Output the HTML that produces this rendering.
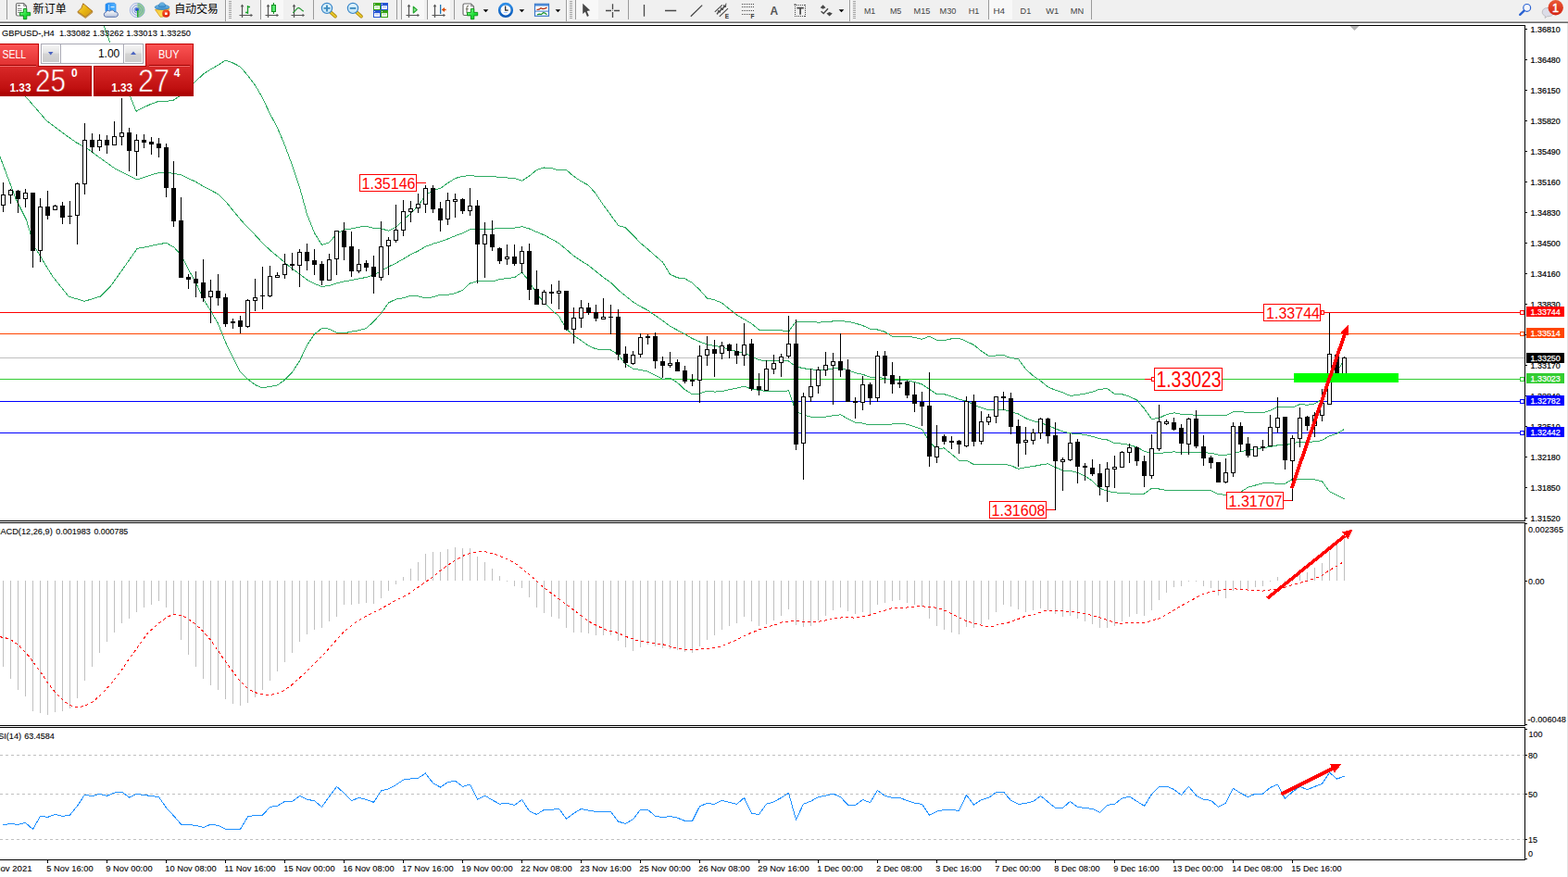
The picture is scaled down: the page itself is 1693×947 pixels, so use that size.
<!DOCTYPE html><html><head><meta charset="utf-8"><title>GBPUSD H4</title><style>html,body{margin:0;padding:0;background:#fff;overflow:hidden}body{width:1693px;height:947px;font-family:"Liberation Sans",sans-serif}svg{display:block}text{white-space:pre}</style></head><body><svg width="1693" height="947" viewBox="0 0 1693 947" font-family="'Liberation Sans', sans-serif">
<rect x="0" y="0" width="1693" height="947" fill="#fff"/>
<g shape-rendering="crispEdges">
<rect x="0" y="0" width="1693" height="22" fill="#f0f0f0"/>
<rect x="0" y="22" width="1693" height="1" fill="#f5f5f5"/>
<rect x="0" y="23" width="1693" height="1" fill="#a6a6a6"/>
<rect x="0" y="24" width="1693" height="1" fill="#696969"/>
<rect x="7" y="0" width="1" height="21" fill="#9a9a9a"/>
<rect x="338" y="0" width="1" height="21" fill="#9a9a9a"/>
<rect x="428" y="0" width="1" height="21" fill="#9a9a9a"/>
<rect x="490" y="0" width="1" height="21" fill="#9a9a9a"/>
<rect x="678" y="0" width="1" height="21" fill="#9a9a9a"/>
<rect x="1178" y="0" width="1" height="21" fill="#9a9a9a"/>
<rect x="243" y="0" width="1" height="23" fill="#9a9a9a"/>
<rect x="244" y="0" width="1" height="23" fill="#fbfbfb"/>
<rect x="611" y="0" width="1" height="23" fill="#9a9a9a"/>
<rect x="612" y="0" width="1" height="23" fill="#fbfbfb"/>
<rect x="917" y="0" width="1" height="23" fill="#9a9a9a"/>
<rect x="918" y="0" width="1" height="23" fill="#fbfbfb"/>
<rect x="282" y="0" width="24" height="21" fill="#f8f8f8"/>
<rect x="281" y="0" width="1" height="21" fill="#9a9a9a"/>
<rect x="434" y="0" width="24" height="21" fill="#f8f8f8"/>
<rect x="433" y="0" width="1" height="21" fill="#9a9a9a"/>
<rect x="462" y="0" width="24" height="21" fill="#f8f8f8"/>
<rect x="461" y="0" width="1" height="21" fill="#9a9a9a"/>
<rect x="622" y="0" width="24" height="21" fill="#f8f8f8"/>
<rect x="621" y="0" width="1" height="21" fill="#9a9a9a"/>
<rect x="1068" y="0" width="25" height="21" fill="#f8f8f8"/>
<rect x="1067" y="0" width="1" height="21" fill="#9a9a9a"/>
<rect x="247" y="1" width="3" height="1" fill="#a4a4a4"/>
<rect x="247" y="3" width="3" height="1" fill="#a4a4a4"/>
<rect x="247" y="5" width="3" height="1" fill="#a4a4a4"/>
<rect x="247" y="7" width="3" height="1" fill="#a4a4a4"/>
<rect x="247" y="9" width="3" height="1" fill="#a4a4a4"/>
<rect x="247" y="11" width="3" height="1" fill="#a4a4a4"/>
<rect x="247" y="13" width="3" height="1" fill="#a4a4a4"/>
<rect x="247" y="15" width="3" height="1" fill="#a4a4a4"/>
<rect x="247" y="17" width="3" height="1" fill="#a4a4a4"/>
<rect x="247" y="19" width="3" height="1" fill="#a4a4a4"/>
<rect x="615" y="1" width="3" height="1" fill="#a4a4a4"/>
<rect x="615" y="3" width="3" height="1" fill="#a4a4a4"/>
<rect x="615" y="5" width="3" height="1" fill="#a4a4a4"/>
<rect x="615" y="7" width="3" height="1" fill="#a4a4a4"/>
<rect x="615" y="9" width="3" height="1" fill="#a4a4a4"/>
<rect x="615" y="11" width="3" height="1" fill="#a4a4a4"/>
<rect x="615" y="13" width="3" height="1" fill="#a4a4a4"/>
<rect x="615" y="15" width="3" height="1" fill="#a4a4a4"/>
<rect x="615" y="17" width="3" height="1" fill="#a4a4a4"/>
<rect x="615" y="19" width="3" height="1" fill="#a4a4a4"/>
<rect x="921" y="1" width="3" height="1" fill="#a4a4a4"/>
<rect x="921" y="3" width="3" height="1" fill="#a4a4a4"/>
<rect x="921" y="5" width="3" height="1" fill="#a4a4a4"/>
<rect x="921" y="7" width="3" height="1" fill="#a4a4a4"/>
<rect x="921" y="9" width="3" height="1" fill="#a4a4a4"/>
<rect x="921" y="11" width="3" height="1" fill="#a4a4a4"/>
<rect x="921" y="13" width="3" height="1" fill="#a4a4a4"/>
<rect x="921" y="15" width="3" height="1" fill="#a4a4a4"/>
<rect x="921" y="17" width="3" height="1" fill="#a4a4a4"/>
<rect x="921" y="19" width="3" height="1" fill="#a4a4a4"/>
</g>
<defs><linearGradient id="gpl" x1="0" y1="0" x2="1" y2="1"><stop offset="0" stop-color="#98ff9c"/><stop offset="0.55" stop-color="#22e03a"/><stop offset="1" stop-color="#0cc020"/></linearGradient><linearGradient id="ggold" x1="0" y1="0" x2="1" y2="1"><stop offset="0" stop-color="#f8d84a"/><stop offset="0.5" stop-color="#e8b410"/><stop offset="1" stop-color="#c8901a"/></linearGradient><linearGradient id="gcloud" x1="0" y1="0" x2="0" y2="1"><stop offset="0" stop-color="#ffffff"/><stop offset="1" stop-color="#b8c4dc"/></linearGradient><linearGradient id="gblue" x1="0" y1="0" x2="1" y2="0"><stop offset="0" stop-color="#1e8cf5"/><stop offset="1" stop-color="#55b4ff"/></linearGradient><radialGradient id="gred" cx="0.4" cy="0.3" r="0.8"><stop offset="0" stop-color="#ff5a30"/><stop offset="1" stop-color="#d01800"/></radialGradient><linearGradient id="gbadge" x1="0" y1="0" x2="0" y2="1"><stop offset="0" stop-color="#ea5a36"/><stop offset="1" stop-color="#d42414"/></linearGradient><linearGradient id="glens" x1="0" y1="0" x2="0" y2="1"><stop offset="0" stop-color="#e4f6fd"/><stop offset="1" stop-color="#bfe3f6"/></linearGradient><linearGradient id="gclock" x1="0" y1="0" x2="0" y2="1"><stop offset="0" stop-color="#2f8fe8"/><stop offset="1" stop-color="#0a58b8"/></linearGradient><linearGradient id="ghat" x1="0" y1="0" x2="0" y2="1"><stop offset="0" stop-color="#7cc4ec"/><stop offset="1" stop-color="#3a8ccc"/></linearGradient><linearGradient id="gface" x1="0" y1="0" x2="1" y2="1"><stop offset="0" stop-color="#f6c830"/><stop offset="1" stop-color="#fbe878"/></linearGradient></defs><path d="M19.5 3.5h6.0l3 3v9q0 1.5 -1.5 1.5h-8.0q-1.5 0 -1.5 -1.5v-10.5q0 -1.5 1.5 -1.5z" fill="#fff" stroke="#6c6c6c" stroke-width="1.15"/><path d="M25.5 3.7v2.8h2.8" fill="none" stroke="#8a8a8a" stroke-width="0.9"/><rect x="19" y="5" width="3" height="1.6" fill="#8c8c8c"/><path d="M19 9.5h4.6M19 11.5h4.6M19 13.5h3" stroke="#8c8c8c" stroke-width="1"/><path d="M25.4 9.5h3.4v3.9h3.9v3.4h-3.9v3.9h-3.4v-3.9h-3.9v-3.4h3.9z" fill="url(#gpl)" stroke="#089414" stroke-width="0.95"/><path d="M89.8 3.8 Q88.8 9.2 84 12.6 L92.1 18.5 L99.8 12.1 Z" fill="url(#ggold)" stroke="#a8701a" stroke-width="1" stroke-linejoin="round"/><path d="M92.1 18.5 L99.8 12.1 L100 13.4 L92.3 19.6 L84 13.8 L84 12.6Z" fill="#d9b469" stroke="#a8701a" stroke-width="0.6"/><path d="M114 4.5l3 -1.3h6.5l1.5 1.5v8h-11z" fill="url(#gblue)" stroke="#1878e0" stroke-width="0.6"/><path d="M117.5 5v7" stroke="#bfe2ff" stroke-width="0.8"/><path d="M119.5 7.5h4" stroke="#d8eeff" stroke-width="1.2"/><path d="M114.5 18.3a2.6 2.6 0 0 1 -.3 -5.1a3 3 0 0 1 4.3 -1.2a3.2 3.2 0 0 1 5.3 .9a2.7 2.7 0 0 1 1.6 5.3q-.4 .1 -1 .1z" fill="url(#gcloud)" stroke="#4a66a6" stroke-width="0.9"/><g fill="none" stroke="#3a66d8"><path d="M148 3.3a7.7 7.7 0 1 0 0.1 15.4" stroke-width="1" opacity="0.45"/><path d="M148 5.6a5.4 5.4 0 1 0 0.1 10.8" stroke-width="1" opacity="0.6"/><path d="M148 7.9a3.1 3.1 0 1 0 0.1 6.2" stroke-width="1" opacity="0.75"/></g><path d="M148.3 3.3a7.7 7.7 0 0 1 0.2 15.4l0 -7.7z" fill="#7cc47a" opacity="0.75"/><path d="M148.3 3.3a7.7 7.7 0 0 1 0.2 15.4M148.3 5.6a5.4 5.4 0 0 1 0.1 10.8M148.3 7.9a3.1 3.1 0 0 1 .1 6.2" fill="none" stroke="#4a8ac0" stroke-width="0.9" opacity="0.6"/><circle cx="148" cy="10.6" r="2" fill="#2a58d0"/><rect x="148" y="11" width="1.4" height="7.6" fill="#22a82a"/><path d="M167.5 10.4 L182.8 9.6 L176.5 18 L173 18.3 Z" fill="url(#gface)" stroke="#d89a18" stroke-width="0.8" stroke-linejoin="round"/><ellipse cx="175" cy="7.8" rx="7.8" ry="2.6" fill="url(#ghat)" stroke="#2c7cbc" stroke-width="0.7"/><path d="M171.2 7.2q.3 -4.3 3.8 -4.3t3.8 4.3q-3.8 1.4 -7.6 0z" fill="url(#ghat)" stroke="#2c7cbc" stroke-width="0.7"/><circle cx="179.3" cy="14.7" r="4.1" fill="url(#gred)"/><rect x="178.1" y="13.5" width="2.5" height="2.5" fill="#fff"/><path d="M261.5 5.5V19M258.5 16.5H272" stroke="#555" stroke-width="1.2" fill="none"/><path d="M259.7 7.2L261.5 4.6L263.3 7.2zM270.6 14.7L273 16.5L270.6 18.3z" fill="#555"/><path d="M267.5 6v9M267.5 7.5h2.5M265 13.5h2.5" stroke="#18a028" stroke-width="1.3" fill="none"/><path d="M289.5 5.5V19M286.5 16.5H300" stroke="#555" stroke-width="1.2" fill="none"/><path d="M287.7 7.2L289.5 4.6L291.3 7.2zM298.6 14.7L301 16.5L298.6 18.3z" fill="#555"/><rect x="295" y="3" width="1" height="12" fill="#109020"/><rect x="293.5" y="5.5" width="4" height="7" fill="#58e870" stroke="#109020" stroke-width="1"/><path d="M317.5 5.5V19M314.5 16.5H328" stroke="#555" stroke-width="1.2" fill="none"/><path d="M315.7 7.2L317.5 4.6L319.3 7.2zM326.6 14.7L329 16.5L326.6 18.3z" fill="#555"/><path d="M316.2 13.8C319 12 320.5 8.4 322.2 8.3C324 8.3 325.5 11.2 327.8 12.2" stroke="#2a9a38" stroke-width="1.3" fill="none"/><path d="M357.2 13.4l4.8 4.3" stroke="#a88008" stroke-width="3.6" stroke-linecap="round"/><path d="M357.2 13.4l4.8 4.3" stroke="#e6c62a" stroke-width="2.2" stroke-linecap="round"/><circle cx="353" cy="8.9" r="5.6" fill="url(#glens)" stroke="#3a86c8" stroke-width="1.2"/><path d="M349.5 8.9h7M353 5.4v7" stroke="#3f8cc0" stroke-width="1.9"/><path d="M385.2 13.4l4.8 4.3" stroke="#a88008" stroke-width="3.6" stroke-linecap="round"/><path d="M385.2 13.4l4.8 4.3" stroke="#e6c62a" stroke-width="2.2" stroke-linecap="round"/><circle cx="381" cy="8.9" r="5.6" fill="url(#glens)" stroke="#3a86c8" stroke-width="1.2"/><path d="M377.7 8.9h6.6" stroke="#3f8cc0" stroke-width="1.9"/><rect x="403" y="3" width="8" height="8" fill="#34a212"/><rect x="404" y="6.2" width="6" height="3.8" fill="#fff"/><rect x="405" y="7.4" width="4" height="1" fill="#a8dc98"/><rect x="404" y="4" width="1" height="1" fill="#dde"/><rect x="411" y="3" width="8" height="8" fill="#2454d4"/><rect x="412" y="6.2" width="6" height="3.8" fill="#fff"/><rect x="413" y="7.4" width="4" height="1" fill="#a8bcf0"/><rect x="412" y="4" width="1" height="1" fill="#dde"/><rect x="403" y="11" width="8" height="8" fill="#2454d4"/><rect x="404" y="14.2" width="6" height="3.8" fill="#fff"/><rect x="405" y="15.4" width="4" height="1" fill="#a8bcf0"/><rect x="404" y="12" width="1" height="1" fill="#dde"/><rect x="411" y="11" width="8" height="8" fill="#34a212"/><rect x="412" y="14.2" width="6" height="3.8" fill="#fff"/><rect x="413" y="15.4" width="4" height="1" fill="#a8dc98"/><rect x="412" y="12" width="1" height="1" fill="#dde"/><path d="M441.5 5.5V19M438.5 16.5H452" stroke="#555" stroke-width="1.2" fill="none"/><path d="M439.7 7.2L441.5 4.6L443.3 7.2zM450.6 14.7L453 16.5L450.6 18.3z" fill="#555"/><path d="M446.3 7.2v6.8l4 -3.4z" fill="#8be08e" stroke="#1ea428" stroke-width="1.1" stroke-linejoin="round"/><path d="M469.5 5.5V19M466.5 16.5H480" stroke="#555" stroke-width="1.2" fill="none"/><path d="M467.7 7.2L469.5 4.6L471.3 7.2zM478.6 14.7L481 16.5L478.6 18.3z" fill="#555"/><rect x="475" y="5" width="1.3" height="10" fill="#1f74b4"/><path d="M476.8 10.5l3.2 -2.6v1.9h1.6v1.4h-1.6v1.9z" fill="#d84a08"/><path d="M502 4.0h6.5l3 3v8q0 1.5 -1.5 1.5h-8.5q-1.5 0 -1.5 -1.5v-9.5q0 -1.5 1.5 -1.5z" fill="#fff" stroke="#6c6c6c" stroke-width="1.15"/><path d="M508.5 4.2v2.8h2.8" fill="none" stroke="#8a8a8a" stroke-width="0.9"/><path d="M506 6.2q-2 -.3 -2 2v6M502.8 9.8h3" stroke="#665" stroke-width="1" fill="none"/><path d="M508.4 9.5h3.4v3.9h3.9v3.4h-3.9v3.9h-3.4v-3.9h-3.9v-3.4h3.9z" fill="url(#gpl)" stroke="#089414" stroke-width="0.95"/><path d="M521.7 10.3h5.6l-2.8 3z" fill="#000"/><circle cx="546" cy="10.9" r="6.8" fill="#fdfdfd" stroke="url(#gclock)" stroke-width="2.6"/><path d="M545.7 6.5v4.6h3" stroke="#222" stroke-width="1.2" fill="none"/><g fill="#9ab"><rect x="545.5" y="5" width="1" height="1"/><rect x="551" y="10.5" width="1" height="1"/><rect x="540.4" y="10.5" width="1" height="1"/><rect x="545.5" y="15.8" width="1" height="1"/><rect x="543.8" y="13.3" width="4" height=".8" fill="#7af"/></g><path d="M560.6 10.3h5.6l-2.8 3z" fill="#000"/><rect x="577.5" y="4.3" width="15" height="13" fill="#fff" stroke="#3a78c8" stroke-width="1.2"/><rect x="578" y="4.5" width="14" height="2" fill="#4a8ad8"/><rect x="578" y="11.6" width="14" height="1" fill="#3a78c8"/><path d="M579.5 10.5l2.5 -.3l2 -1.4l2 .8l2.5 -.5l2 -1" stroke="#b02808" stroke-width="1.2" fill="none"/><path d="M580 15.8l2.3 -.6l2 .5l2.3 -2l1.8 .4l2 1.6" stroke="#18902a" stroke-width="1.2" fill="none"/><path d="M599.6 10.3h5.6l-2.8 3z" fill="#000"/><path d="M629.2 3.8V15L631.9 12.8L634 17.9L635.8 17.1L633.7 12.1L637.2 11.3Z" fill="#484848"/><path d="M654 11.5h6M663 11.5h6M661.5 4.2v6M661.5 13v6" stroke="#484848" stroke-width="1.3"/><rect x="661" y="11" width="1" height="1" fill="#888"/><path d="M695.5 5v12.8M718 11.5h12.2M745.8 17.8L758.2 5.6" stroke="#484848" stroke-width="1.3" fill="none"/><path d="M771.8 12.8L779.8 5.3M776.8 17.8L786 9.2M773.8 15.2L784 5.8" stroke="#484848" stroke-width="1.1" fill="none"/><path d="M774.6 15.6l1.2 -4.6l1.4 2.6l1.6 -5.4l1.4 2.8l1.6 -5.6l1.3 2.6l.9 -4.4" stroke="#484848" stroke-width="1" fill="none"/><text x="782.8" y="19.8" font-size="6.5" font-weight="bold" fill="#333">E</text><path d="M801 4.5h13" stroke="#484848" stroke-width="1" stroke-dasharray="1 1" shape-rendering="crispEdges"/><path d="M801 7.5h13" stroke="#484848" stroke-width="1" stroke-dasharray="1 1" shape-rendering="crispEdges"/><path d="M801 11.5h13" stroke="#484848" stroke-width="1" stroke-dasharray="1 1" shape-rendering="crispEdges"/><path d="M801 15.5h13" stroke="#484848" stroke-width="1" stroke-dasharray="1 1" shape-rendering="crispEdges"/><text x="810.6" y="19.9" font-size="6.5" font-weight="bold" fill="#333">F</text><text x="831.4" y="15.7" font-size="12" font-weight="bold" fill="#555" textLength="8.6" lengthAdjust="spacingAndGlyphs">A</text><path d="M858 5.5h12M858 17.5h12M858.5 5v13M869.5 5v13" fill="none" stroke="#484848" stroke-width="1" stroke-dasharray="1 1" shape-rendering="crispEdges"/><rect x="857.5" y="4.3" width="2" height="1.4" fill="#484848"/><path d="M860.4 8.7h7.4M864.1 8.7v7" stroke="#484848" stroke-width="1.7" fill="none"/><path d="M888.6 5.3l2.9 2.9l-2.9 1.6l-2.9 -1.6zM895.6 17.6l-3.2 -3l3.2 -1.5l3.2 1.5z" fill="#484848"/><path d="M886.6 12.2l2.6 2.3l4.8 -5.2" stroke="#484848" stroke-width="1.4" fill="none"/><path d="M905.7 10.3h5.6l-2.8 3z" fill="#000"/><circle cx="1648.7" cy="8.4" r="3.9" fill="#f4f6fc" stroke="#2a62d2" stroke-width="1.2"/><path d="M1645.6 11.6L1641.2 15.8" stroke="#2a62d2" stroke-width="2.4" stroke-linecap="round"/><path d="M1670.8 8.5c-3.3 0 -5.6 1.9 -5.6 4.6c0 2 1.4 3.5 3.3 4.2l-.4 2.2l2.4 -1.8c4 .2 7.2 -1.4 7.2 -4.6c0 -2.7 -3 -4.6 -6.9 -4.6z" fill="#dcdde8" stroke="#b4b4b8" stroke-width="0.8"/><circle cx="1679.7" cy="8.2" r="8.2" fill="url(#gbadge)"/><text x="1679.6" y="12.8" font-size="12.5" fill="#fff" text-anchor="middle" stroke="#fff" stroke-width="0.5">1</text>
<text x="932.9" y="14.9" font-size="9.7" fill="#444" textLength="12.2" lengthAdjust="spacingAndGlyphs">M1</text>
<text x="960.9" y="14.9" font-size="9.7" fill="#444" textLength="12.4" lengthAdjust="spacingAndGlyphs">M5</text>
<text x="986.5" y="14.9" font-size="9.7" fill="#444" textLength="17.9" lengthAdjust="spacingAndGlyphs">M15</text>
<text x="1014.6" y="14.9" font-size="9.7" fill="#444" textLength="17.9" lengthAdjust="spacingAndGlyphs">M30</text>
<text x="1045.7" y="14.9" font-size="9.7" fill="#444" textLength="11.6" lengthAdjust="spacingAndGlyphs">H1</text>
<text x="1072.5" y="14.9" font-size="9.7" fill="#444" textLength="12.6" lengthAdjust="spacingAndGlyphs">H4</text>
<text x="1101.6" y="14.9" font-size="9.7" fill="#444" textLength="11.6" lengthAdjust="spacingAndGlyphs">D1</text>
<text x="1129.2" y="14.9" font-size="9.7" fill="#444" textLength="14.1" lengthAdjust="spacingAndGlyphs">W1</text>
<text x="1155.7" y="14.9" font-size="9.7" fill="#444" textLength="14.4" lengthAdjust="spacingAndGlyphs">MN</text>
<text x="35.6" y="14" font-size="12" fill="#000" textLength="36.2" lengthAdjust="spacing" style="font-family:'Liberation Sans','Noto Sans CJK SC',sans-serif">新订单</text>
<text x="188.2" y="14" font-size="12" fill="#000" textLength="47.6" lengthAdjust="spacing" style="font-family:'Liberation Sans','Noto Sans CJK SC',sans-serif">自动交易</text>
<g shape-rendering="crispEdges">
<rect x="0" y="27" width="1647" height="1" fill="#000"/>
<rect x="1646" y="27" width="1" height="536" fill="#000"/>
<rect x="0" y="562" width="1647" height="1" fill="#000"/>
<rect x="0" y="564" width="1647" height="1" fill="#000"/>
<rect x="1646" y="564" width="1" height="220" fill="#000"/>
<rect x="0" y="783" width="1647" height="1" fill="#000"/>
<rect x="0" y="785" width="1647" height="1" fill="#000"/>
<rect x="1646" y="785" width="1" height="144" fill="#000"/>
<rect x="0" y="928" width="1647" height="1" fill="#000"/>
<rect x="1692" y="25" width="1" height="922" fill="#e3e3e3"/>
<rect x="0" y="337" width="1646" height="1" fill="#ff0000"/>
<rect x="0" y="360" width="1646" height="1" fill="#ff4500"/>
<rect x="0" y="386" width="1646" height="1" fill="#c0c0c0"/>
<rect x="0" y="409" width="1646" height="1" fill="#32cd32"/>
<rect x="0" y="433" width="1646" height="1" fill="#0000ff"/>
<rect x="0" y="467" width="1646" height="1" fill="#0000ff"/>
</g>
<clipPath id="cpm"><rect x="0" y="28" width="1646" height="534"/></clipPath>
<g clip-path="url(#cpm)" fill="none" stroke="#2fab63" stroke-width="1" shape-rendering="crispEdges">
<polyline points="112.2,27.5 118.2,44.5 122,52 128,72 135,90 141.5,106.4 147,120.2 155.5,115.9 163.5,112.1 171.5,109.3 179.5,109.4 187.5,108 195.5,102.7 203.5,94.5 211.5,87.6 219.5,80 227.5,74.9 235.5,70.2 243.5,65.2 251.5,68 259.5,72.1 267.5,81.6 275.5,92 283.5,105.9 291.5,122.8 299.5,137.8 307.5,156.9 315.5,178.4 323.5,202.2 331.5,231.5 339.5,251.6 347.5,264.4 355.5,261.9 363.5,252.6 371.5,248 379.5,246.9 387.5,245.2 395.5,244.1 403.5,246.6 411.5,246.9 419.5,249.1 427.5,245.4 435.5,237.4 443.5,230.5 451.5,222.1 459.5,210.8 467.5,205.8 475.5,203.3 483.5,197.7 491.5,192.6 499.5,190.3 507.5,189.7 515.5,190.3 523.5,190.4 531.5,190.4 539.5,191.5 547.5,192 555.5,192.4 563.5,195.3 571.5,190 579.5,183.4 587.5,181 595.5,181.6 603.5,184 611.5,183.6 619.5,190.4 627.5,195.8 635.5,200.1 643.5,209.4 651.5,221.4 659.5,232.3 667.5,243.4 675.5,245.9 683.5,254 691.5,262.4 699.5,269.1 707.5,276.3 715.5,283 723.5,296.2 731.5,299.9 739.5,300.8 747.5,305.5 755.5,313 763.5,322 771.5,323.8 779.5,327.2 787.5,333.7 795.5,340 803.5,344.7 811.5,349.5 819.5,356 827.5,356.7 835.5,356.7 843.5,356.8 851.5,358.1 859.5,347.2 867.5,347.2 875.5,347.6 883.5,348.1 891.5,347.8 899.5,346.9 907.5,346.7 915.5,347.3 923.5,349.1 931.5,351.5 939.5,355.3 947.5,356 955.5,358.3 963.5,363.4 971.5,363.3 979.5,363.2 987.5,364.3 995.5,366.3 1003.5,363.1 1011.5,367.1 1019.5,367.5 1027.5,365.8 1035.5,365.2 1043.5,368.6 1051.5,372.5 1059.5,379 1067.5,384.4 1075.5,384 1083.5,383.5 1091.5,386.6 1099.5,387.6 1107.5,398.7 1115.5,405.8 1123.5,411.2 1131.5,417.9 1139.5,421.2 1147.5,423.8 1155.5,427.4 1163.5,426.4 1171.5,425.1 1179.5,423.3 1187.5,420.2 1195.5,419.7 1203.5,425.3 1211.5,425.7 1219.5,428.2 1227.5,432 1235.5,441.2 1243.5,452.5 1251.5,451.4 1259.5,447.6 1267.5,445.8 1275.5,447.2 1283.5,447.3 1291.5,448.5 1299.5,448.5 1307.5,448.5 1315.5,448.8 1323.5,448.6 1331.5,444.8 1339.5,444.2 1347.5,446 1355.5,445.9 1363.5,445.8 1371.5,443.3 1379.5,439.2 1387.5,439.3 1395.5,440 1403.5,436.6 1411.5,437.2 1419.5,436 1427.5,431.1 1435.5,410.6 1443.5,401.5 1451.5,388.2"/>
<polyline points="0,78 15,92 29.6,106.4 50.1,130.2 70.1,145.2 82.6,154 93.9,160.2 107.7,170.3 125.2,182.8 147.8,194 155.5,191.5 163.5,188.8 171.5,186.5 179.5,185.9 187.5,187.4 195.5,188.8 203.5,192.7 211.5,196.4 219.5,201.3 227.5,205.3 235.5,209.7 243.5,217.3 251.5,227.2 259.5,236.9 267.5,245.6 275.5,253.8 283.5,262.4 291.5,270.1 299.5,276.8 307.5,283.5 315.5,290.2 323.5,296 331.5,302.1 339.5,306.3 347.5,309.5 355.5,308.5 363.5,305.9 371.5,303.9 379.5,302.5 387.5,301 395.5,299.4 403.5,296.8 411.5,292.7 419.5,288 427.5,284.2 435.5,279.6 443.5,274.9 451.5,271 459.5,266.3 467.5,263.3 475.5,260.8 483.5,258 491.5,254.7 499.5,251.8 507.5,247.8 515.5,247 523.5,247.2 531.5,247.2 539.5,246.6 547.5,246.3 555.5,246.1 563.5,244.7 571.5,247 579.5,250.5 587.5,253.8 595.5,258.2 603.5,262.7 611.5,269.4 619.5,276.4 627.5,281.7 635.5,286.7 643.5,293.1 651.5,299.5 659.5,305.2 667.5,313.2 675.5,319.6 683.5,326.1 691.5,330.9 699.5,335.1 707.5,340.7 715.5,346.2 723.5,352.2 731.5,356.6 739.5,360.8 747.5,365.6 755.5,369 763.5,372.1 771.5,373.4 779.5,374.9 787.5,377.2 795.5,379.5 803.5,380.9 811.5,384.8 819.5,388.8 827.5,389.6 835.5,389.6 843.5,389.7 851.5,390 859.5,395.8 867.5,397.7 875.5,398.9 883.5,399.2 891.5,398.9 899.5,397.9 907.5,397.3 915.5,399.8 923.5,402.6 931.5,404.3 939.5,407.1 947.5,407.4 955.5,408.5 963.5,410.7 971.5,410.4 979.5,410.7 987.5,412.5 995.5,414.9 1003.5,420.3 1011.5,425.8 1019.5,425.7 1027.5,428.1 1035.5,431.2 1043.5,432.9 1051.5,437 1059.5,440.3 1067.5,442.8 1075.5,442.6 1083.5,442.3 1091.5,444.6 1099.5,447 1107.5,451.6 1115.5,454.7 1123.5,456.6 1131.5,459.4 1139.5,462.9 1147.5,465.9 1155.5,467.9 1163.5,468.5 1171.5,469.5 1179.5,471.3 1187.5,473.7 1195.5,475 1203.5,478.6 1211.5,479.1 1219.5,480.5 1227.5,482.9 1235.5,487.2 1243.5,490 1251.5,489.7 1259.5,488.5 1267.5,487.9 1275.5,488.5 1283.5,488.5 1291.5,489 1299.5,488.9 1307.5,489.1 1315.5,491.2 1323.5,491.5 1331.5,489.4 1339.5,487.8 1347.5,486.1 1355.5,484.9 1363.5,483.8 1371.5,482.4 1379.5,480.8 1387.5,480.8 1395.5,478.7 1403.5,477 1411.5,477.3 1419.5,476.9 1427.5,475.5 1435.5,470.7 1443.5,468.2 1451.5,463.5"/>
<polyline points="0,169.1 8.5,191.9 17.1,214.7 28.5,237.5 37,266 45.6,280.2 57,298.8 74.1,320.1 91.2,325.3 108.3,320.1 119.7,308.7 133.9,288.8 148.2,268.3 155.5,267.1 163.5,265.4 171.5,263.6 179.5,262.4 187.5,266.7 195.5,275 203.5,291 211.5,305.1 219.5,322.7 227.5,335.7 235.5,349.3 243.5,369.4 251.5,386.3 259.5,401.7 267.5,409.6 275.5,415.6 283.5,418.9 291.5,417.4 299.5,415.9 307.5,410.2 315.5,402 323.5,389.8 331.5,372.7 339.5,360.9 347.5,354.5 355.5,355.1 363.5,359.2 371.5,359.9 379.5,358.1 387.5,356.8 395.5,354.6 403.5,347 411.5,338.5 419.5,327 427.5,323.1 435.5,321.8 443.5,319.2 451.5,319.9 459.5,321.8 467.5,320.8 475.5,318.3 483.5,318.4 491.5,316.8 499.5,313.3 507.5,305.9 515.5,303.6 523.5,303.9 531.5,303.9 539.5,301.7 547.5,300.5 555.5,299.7 563.5,294 571.5,303.9 579.5,317.6 587.5,326.6 595.5,334.7 603.5,341.3 611.5,355.2 619.5,362.4 627.5,367.7 635.5,373.4 643.5,376.9 651.5,377.5 659.5,378 667.5,382.9 675.5,393.2 683.5,398.1 691.5,399.4 699.5,401.1 707.5,405.1 715.5,409.4 723.5,408.3 731.5,413.3 739.5,420.8 747.5,425.7 755.5,425 763.5,422.2 771.5,423.1 779.5,422.6 787.5,420.7 795.5,419.1 803.5,417.1 811.5,420.1 819.5,421.5 827.5,422.5 835.5,422.5 843.5,422.5 851.5,421.9 859.5,444.4 867.5,448.2 875.5,450.1 883.5,450.4 891.5,450.1 899.5,448.8 907.5,447.8 915.5,452.3 923.5,456.1 931.5,457.1 939.5,459 947.5,458.8 955.5,458.7 963.5,458 971.5,457.5 979.5,458.1 987.5,460.8 995.5,463.5 1003.5,477.4 1011.5,484.5 1019.5,483.9 1027.5,490.4 1035.5,497.2 1043.5,497.3 1051.5,501.6 1059.5,501.6 1067.5,501.3 1075.5,501.2 1083.5,501.1 1091.5,502.6 1099.5,506.4 1107.5,504.6 1115.5,503.6 1123.5,502 1131.5,500.8 1139.5,504.6 1147.5,508.1 1155.5,508.4 1163.5,510.5 1171.5,514 1179.5,519.3 1187.5,527.2 1195.5,530.3 1203.5,531.8 1211.5,532.6 1219.5,532.9 1227.5,533.8 1235.5,533.1 1243.5,527.4 1251.5,528 1259.5,529.5 1267.5,530 1275.5,529.7 1283.5,529.7 1291.5,529.5 1299.5,529.3 1307.5,529.6 1315.5,533.6 1323.5,534.4 1331.5,533.9 1339.5,531.3 1347.5,526.2 1355.5,524 1363.5,521.8 1371.5,521.6 1379.5,522.3 1387.5,522.3 1395.5,517.4 1403.5,517.5 1411.5,517.3 1419.5,517.8 1427.5,519.9 1435.5,530.8 1443.5,534.9 1451.5,538.7"/>
</g>
<g shape-rendering="crispEdges">
<path fill="#000" d="M3 197h1v32h-1zM11 204h1v16h-1zM19 205h1v25h-1zM27 204h1v20h-1zM35 208h1v81h-1zM43 214h1v69h-1zM51 206h1v31h-1zM59 221h1v6h-1zM67 218h1v24h-1zM75 217h1v25h-1zM83 197h1v67h-1zM91 133h1v77h-1zM99 144h1v21h-1zM107 145h1v18h-1zM115 146h1v20h-1zM123 131h1v26h-1zM131 106h1v51h-1zM139 138h1v47h-1zM147 145h1v45h-1zM155 145h1v15h-1zM163 148h1v19h-1zM171 149h1v21h-1zM179 155h1v58h-1zM187 174h1v71h-1zM195 213h1v87h-1zM203 296h1v16h-1zM211 293h1v28h-1zM219 280h1v46h-1zM227 302h1v47h-1zM235 296h1v34h-1zM243 317h1v36h-1zM251 344h1v11h-1zM259 341h1v19h-1zM267 323h1v31h-1zM275 301h1v35h-1zM283 288h1v46h-1zM291 287h1v34h-1zM299 294h1v6h-1zM307 274h1v27h-1zM315 273h1v19h-1zM323 269h1v41h-1zM331 263h1v29h-1zM339 269h1v28h-1zM347 282h1v26h-1zM355 274h1v29h-1zM363 249h1v48h-1zM371 240h1v41h-1zM379 250h1v49h-1zM387 269h1v26h-1zM395 281h1v12h-1zM403 276h1v41h-1zM411 239h1v64h-1zM419 256h1v41h-1zM427 221h1v41h-1zM435 216h1v39h-1zM443 217h1v23h-1zM451 209h1v21h-1zM459 200h1v30h-1zM467 200h1v30h-1zM475 218h1v32h-1zM483 208h1v35h-1zM491 209h1v26h-1zM499 214h1v17h-1zM507 203h1v30h-1zM515 216h1v90h-1zM523 240h1v60h-1zM531 238h1v33h-1zM539 267h1v18h-1zM547 264h1v22h-1zM555 264h1v23h-1zM563 266h1v29h-1zM571 263h1v61h-1zM579 292h1v37h-1zM587 313h1v16h-1zM595 307h1v21h-1zM603 303h1v31h-1zM611 314h1v43h-1zM619 332h1v39h-1zM627 324h1v30h-1zM635 327h1v13h-1zM643 329h1v18h-1zM651 322h1v22h-1zM659 329h1v32h-1zM667 334h1v55h-1zM675 374h1v23h-1zM683 379h1v15h-1zM691 360h1v26h-1zM699 361h1v11h-1zM707 359h1v39h-1zM715 385h1v23h-1zM723 380h1v17h-1zM731 388h1v13h-1zM739 395h1v19h-1zM747 404h1v13h-1zM755 373h1v62h-1zM763 363h1v32h-1zM771 367h1v40h-1zM779 369h1v19h-1zM787 371h1v16h-1zM795 371h1v22h-1zM803 349h1v46h-1zM811 366h1v56h-1zM819 403h1v24h-1zM827 389h1v33h-1zM835 383h1v21h-1zM843 382h1v25h-1zM851 341h1v46h-1zM859 345h1v141h-1zM867 424h1v94h-1zM875 398h1v36h-1zM883 396h1v29h-1zM891 380h1v26h-1zM899 381h1v56h-1zM907 360h1v47h-1zM915 388h1v46h-1zM923 429h1v23h-1zM931 406h1v37h-1zM939 413h1v24h-1zM947 379h1v55h-1zM955 379h1v35h-1zM963 391h1v34h-1zM971 406h1v13h-1zM979 411h1v19h-1zM987 413h1v32h-1zM995 423h1v37h-1zM1003 402h1v102h-1zM1011 459h1v41h-1zM1019 469h1v11h-1zM1027 471h1v14h-1zM1035 475h1v15h-1zM1043 428h1v55h-1zM1051 426h1v56h-1zM1059 444h1v36h-1zM1067 447h1v12h-1zM1075 428h1v29h-1zM1083 423h1v20h-1zM1091 424h1v45h-1zM1099 453h1v51h-1zM1107 461h1v30h-1zM1115 463h1v17h-1zM1123 451h1v23h-1zM1131 451h1v28h-1zM1139 456h1v95h-1zM1147 494h1v36h-1zM1155 468h1v30h-1zM1163 474h1v48h-1zM1171 500h1v19h-1zM1179 496h1v18h-1zM1187 501h1v34h-1zM1195 499h1v43h-1zM1203 492h1v35h-1zM1211 487h1v18h-1zM1219 479h1v21h-1zM1227 482h1v21h-1zM1235 492h1v34h-1zM1243 469h1v48h-1zM1251 437h1v50h-1zM1259 453h1v6h-1zM1267 451h1v14h-1zM1275 458h1v33h-1zM1283 451h1v40h-1zM1291 443h1v41h-1zM1299 470h1v33h-1zM1307 492h1v14h-1zM1315 499h1v22h-1zM1323 495h1v27h-1zM1331 456h1v59h-1zM1339 456h1v32h-1zM1347 472h1v22h-1zM1355 482h1v11h-1zM1363 475h1v12h-1zM1371 448h1v34h-1zM1379 429h1v38h-1zM1387 450h1v57h-1zM1395 470h1v71h-1zM1403 440h1v43h-1zM1411 449h1v16h-1zM1419 445h1v27h-1zM1427 420h1v35h-1zM1435 338h1v99h-1zM1443 379h1v25h-1zM1451 385h1v20h-1zM17 206h5v9h-5zM33 208h5v63h-5zM49 223h5v10h-5zM65 222h5v13h-5zM73 233h5v1h-5zM97 151h5v8h-5zM113 151h5v6h-5zM137 143h5v20h-5zM153 151h5v3h-5zM161 153h5v3h-5zM169 155h5v5h-5zM177 159h5v44h-5zM185 203h5v36h-5zM193 238h5v62h-5zM201 299h5v3h-5zM209 301h5v5h-5zM217 305h5v17h-5zM233 314h5v8h-5zM241 321h5v29h-5zM249 347h5v2h-5zM257 346h5v7h-5zM281 319h5v1h-5zM313 285h5v2h-5zM329 272h5v10h-5zM337 281h5v5h-5zM345 285h5v18h-5zM369 249h5v18h-5zM377 266h5v27h-5zM393 284h5v5h-5zM401 288h5v11h-5zM465 203h5v23h-5zM473 225h5v13h-5zM497 215h5v13h-5zM513 222h5v42h-5zM529 253h5v14h-5zM537 268h5v14h-5zM553 277h5v8h-5zM569 271h5v42h-5zM577 312h5v17h-5zM593 315h5v2h-5zM609 314h5v42h-5zM633 332h5v6h-5zM641 337h5v7h-5zM657 342h5v1h-5zM665 342h5v41h-5zM673 382h5v10h-5zM697 363h5v2h-5zM705 363h5v27h-5zM713 390h5v5h-5zM729 391h5v10h-5zM737 400h5v12h-5zM745 410h5v2h-5zM769 377h5v5h-5zM785 372h5v7h-5zM793 379h5v5h-5zM809 371h5v49h-5zM817 417h5v4h-5zM857 371h5v109h-5zM905 390h5v10h-5zM913 399h5v35h-5zM921 433h5v2h-5zM937 415h5v15h-5zM953 384h5v22h-5zM961 405h5v10h-5zM969 413h5v2h-5zM977 412h5v15h-5zM985 426h5v10h-5zM993 434h5v5h-5zM1001 438h5v55h-5zM1017 471h5v6h-5zM1025 476h5v2h-5zM1033 476h5v4h-5zM1049 433h5v44h-5zM1081 428h5v2h-5zM1089 430h5v31h-5zM1097 460h5v19h-5zM1129 452h5v19h-5zM1137 470h5v28h-5zM1161 477h5v27h-5zM1169 503h5v2h-5zM1177 505h5v7h-5zM1185 511h5v15h-5zM1225 483h5v15h-5zM1233 498h5v16h-5zM1265 456h5v8h-5zM1273 462h5v17h-5zM1289 452h5v30h-5zM1297 482h5v13h-5zM1305 494h5v6h-5zM1313 499h5v22h-5zM1337 460h5v20h-5zM1345 479h5v13h-5zM1361 482h5v2h-5zM1385 450h5v47h-5zM1409 450h5v10h-5zM1441 383h5v20h-5z"/>
<path fill="#000" d="M1 210h5v12h-5zM9 205h5v6h-5zM25 208h5v7h-5zM41 223h5v48h-5zM57 222h5v5h-5zM81 198h5v35h-5zM89 151h5v48h-5zM105 151h5v8h-5zM121 147h5v10h-5zM129 143h5v5h-5zM145 151h5v13h-5zM225 314h5v7h-5zM265 324h5v29h-5zM273 321h5v4h-5zM289 298h5v22h-5zM297 297h5v3h-5zM305 285h5v12h-5zM321 272h5v15h-5zM353 280h5v23h-5zM361 249h5v31h-5zM385 285h5v8h-5zM409 266h5v34h-5zM417 259h5v7h-5zM425 248h5v12h-5zM433 228h5v21h-5zM441 225h5v4h-5zM449 220h5v5h-5zM457 203h5v18h-5zM481 216h5v21h-5zM489 215h5v3h-5zM505 222h5v6h-5zM521 253h5v11h-5zM545 277h5v3h-5zM561 271h5v14h-5zM585 315h5v14h-5zM601 314h5v3h-5zM617 343h5v13h-5zM625 332h5v12h-5zM649 342h5v3h-5zM681 383h5v10h-5zM689 364h5v19h-5zM721 392h5v3h-5zM753 384h5v27h-5zM761 377h5v7h-5zM777 373h5v9h-5zM801 372h5v12h-5zM825 398h5v24h-5zM833 392h5v7h-5zM841 385h5v7h-5zM849 371h5v14h-5zM865 428h5v51h-5zM873 417h5v12h-5zM881 399h5v18h-5zM889 394h5v6h-5zM897 390h5v5h-5zM929 415h5v20h-5zM945 384h5v46h-5zM1009 482h5v12h-5zM1041 433h5v49h-5zM1057 455h5v22h-5zM1065 450h5v6h-5zM1073 428h5v22h-5zM1105 475h5v3h-5zM1113 467h5v9h-5zM1121 452h5v16h-5zM1145 496h5v3h-5zM1153 478h5v19h-5zM1193 506h5v20h-5zM1201 504h5v3h-5zM1209 488h5v17h-5zM1217 483h5v6h-5zM1241 484h5v30h-5zM1249 455h5v30h-5zM1257 455h5v3h-5zM1281 452h5v28h-5zM1321 510h5v11h-5zM1329 460h5v51h-5zM1353 482h5v11h-5zM1369 461h5v21h-5zM1377 451h5v11h-5zM1393 473h5v25h-5zM1401 451h5v23h-5zM1417 448h5v12h-5zM1425 435h5v14h-5zM1433 382h5v55h-5zM1449 386h5v19h-5z"/>
<path fill="#fff" d="M2 211h3v10h-3zM10 206h3v4h-3zM26 209h3v5h-3zM42 224h3v46h-3zM58 223h3v3h-3zM82 199h3v33h-3zM90 152h3v46h-3zM106 152h3v6h-3zM122 148h3v8h-3zM130 144h3v3h-3zM146 152h3v11h-3zM226 315h3v5h-3zM266 325h3v27h-3zM274 322h3v2h-3zM290 299h3v20h-3zM298 298h3v1h-3zM306 286h3v10h-3zM322 273h3v13h-3zM354 281h3v21h-3zM362 250h3v29h-3zM386 286h3v6h-3zM410 267h3v32h-3zM418 260h3v5h-3zM426 249h3v10h-3zM434 229h3v19h-3zM442 226h3v2h-3zM450 221h3v3h-3zM458 204h3v16h-3zM482 217h3v19h-3zM490 216h3v1h-3zM506 223h3v4h-3zM522 254h3v9h-3zM546 278h3v1h-3zM562 272h3v12h-3zM586 316h3v12h-3zM602 315h3v1h-3zM618 344h3v11h-3zM626 333h3v10h-3zM650 343h3v1h-3zM682 384h3v8h-3zM690 365h3v17h-3zM722 393h3v1h-3zM754 385h3v25h-3zM762 378h3v5h-3zM778 374h3v7h-3zM802 373h3v10h-3zM826 399h3v22h-3zM834 393h3v5h-3zM842 386h3v5h-3zM850 372h3v12h-3zM866 429h3v49h-3zM874 418h3v10h-3zM882 400h3v16h-3zM890 395h3v4h-3zM898 391h3v3h-3zM930 416h3v18h-3zM946 385h3v44h-3zM1010 483h3v10h-3zM1042 434h3v47h-3zM1058 456h3v20h-3zM1066 451h3v4h-3zM1074 429h3v20h-3zM1106 476h3v1h-3zM1114 468h3v7h-3zM1122 453h3v14h-3zM1146 497h3v1h-3zM1154 479h3v17h-3zM1194 507h3v18h-3zM1202 505h3v1h-3zM1210 489h3v15h-3zM1218 484h3v4h-3zM1242 485h3v28h-3zM1250 456h3v28h-3zM1258 456h3v1h-3zM1282 453h3v26h-3zM1322 511h3v9h-3zM1330 461h3v49h-3zM1354 483h3v9h-3zM1370 462h3v19h-3zM1378 452h3v9h-3zM1394 474h3v23h-3zM1402 452h3v21h-3zM1418 449h3v10h-3zM1426 436h3v12h-3zM1434 383h3v53h-3zM1450 387h3v17h-3z"/>
</g>
<g shape-rendering="crispEdges">
<path fill="#c0c0c0" d="M3 627h1v93h-1zM11 627h1v106h-1zM19 627h1v118h-1zM27 627h1v125h-1zM35 627h1v141h-1zM43 627h1v143h-1zM51 627h1v145h-1zM59 627h1v142h-1zM67 627h1v141h-1zM75 627h1v138h-1zM83 627h1v127h-1zM91 627h1v108h-1zM99 627h1v93h-1zM107 627h1v78h-1zM115 627h1v66h-1zM123 627h1v56h-1zM131 627h1v46h-1zM139 627h1v41h-1zM147 627h1v34h-1zM155 627h1v29h-1zM163 627h1v26h-1zM171 627h1v22h-1zM179 627h1v29h-1zM187 627h1v36h-1zM195 627h1v64h-1zM203 627h1v80h-1zM211 627h1v93h-1zM219 627h1v106h-1zM227 627h1v113h-1zM235 627h1v118h-1zM243 627h1v128h-1zM251 627h1v133h-1zM259 627h1v135h-1zM267 627h1v132h-1zM275 627h1v126h-1zM283 627h1v118h-1zM291 627h1v108h-1zM299 627h1v98h-1zM307 627h1v88h-1zM315 627h1v78h-1zM323 627h1v66h-1zM331 627h1v58h-1zM339 627h1v53h-1zM347 627h1v51h-1zM355 627h1v44h-1zM363 627h1v39h-1zM371 627h1v26h-1zM379 627h1v26h-1zM387 627h1v25h-1zM395 627h1v24h-1zM403 627h1v25h-1zM411 627h1v19h-1zM419 627h1v11h-1zM427 627h1v4h-1zM435 623h1v4h-1zM443 614h1v13h-1zM451 607h1v20h-1zM459 598h1v29h-1zM467 596h1v31h-1zM475 596h1v31h-1zM483 593h1v34h-1zM491 591h1v36h-1zM499 592h1v35h-1zM507 592h1v35h-1zM515 601h1v26h-1zM523 607h1v20h-1zM531 614h1v13h-1zM539 622h1v5h-1zM547 627h1v1h-1zM555 627h1v6h-1zM563 627h1v8h-1zM571 627h1v18h-1zM579 627h1v29h-1zM587 627h1v35h-1zM595 627h1v39h-1zM603 627h1v41h-1zM611 627h1v51h-1zM619 627h1v56h-1zM627 627h1v56h-1zM635 627h1v57h-1zM643 627h1v59h-1zM651 627h1v59h-1zM659 627h1v59h-1zM667 627h1v65h-1zM675 627h1v72h-1zM683 627h1v76h-1zM691 627h1v72h-1zM699 627h1v69h-1zM707 627h1v71h-1zM715 627h1v73h-1zM723 627h1v74h-1zM731 627h1v75h-1zM739 627h1v77h-1zM747 627h1v78h-1zM755 627h1v71h-1zM763 627h1v64h-1zM771 627h1v59h-1zM779 627h1v53h-1zM787 627h1v49h-1zM795 627h1v46h-1zM803 627h1v39h-1zM811 627h1v44h-1zM819 627h1v49h-1zM827 627h1v47h-1zM835 627h1v43h-1zM843 627h1v38h-1zM851 627h1v31h-1zM859 627h1v48h-1zM867 627h1v50h-1zM875 627h1v49h-1zM883 627h1v43h-1zM891 627h1v38h-1zM899 627h1v32h-1zM907 627h1v29h-1zM915 627h1v33h-1zM923 627h1v36h-1zM931 627h1v34h-1zM939 627h1v36h-1zM947 627h1v26h-1zM955 627h1v24h-1zM963 627h1v22h-1zM971 627h1v21h-1zM979 627h1v24h-1zM987 627h1v26h-1zM995 627h1v28h-1zM1003 627h1v41h-1zM1011 627h1v49h-1zM1019 627h1v53h-1zM1027 627h1v56h-1zM1035 627h1v58h-1zM1043 627h1v50h-1zM1051 627h1v51h-1zM1059 627h1v47h-1zM1067 627h1v42h-1zM1075 627h1v34h-1zM1083 627h1v26h-1zM1091 627h1v28h-1zM1099 627h1v31h-1zM1107 627h1v34h-1zM1115 627h1v32h-1zM1123 627h1v30h-1zM1131 627h1v32h-1zM1139 627h1v36h-1zM1147 627h1v39h-1zM1155 627h1v38h-1zM1163 627h1v41h-1zM1171 627h1v44h-1zM1179 627h1v47h-1zM1187 627h1v51h-1zM1195 627h1v51h-1zM1203 627h1v49h-1zM1211 627h1v44h-1zM1219 627h1v39h-1zM1227 627h1v36h-1zM1235 627h1v38h-1zM1243 627h1v32h-1zM1251 627h1v21h-1zM1259 627h1v13h-1zM1267 627h1v7h-1zM1275 627h1v6h-1zM1283 627h1v1h-1zM1291 627h1v1h-1zM1299 627h1v6h-1zM1307 627h1v8h-1zM1315 627h1v16h-1zM1323 627h1v19h-1zM1331 627h1v11h-1zM1339 627h1v9h-1zM1347 627h1v9h-1zM1355 627h1v7h-1zM1363 627h1v6h-1zM1371 627h1v1h-1zM1379 623h1v4h-1zM1387 627h1v2h-1zM1395 627h1v1h-1zM1403 620h1v7h-1zM1411 618h1v9h-1zM1419 613h1v14h-1zM1427 608h1v19h-1zM1435 595h1v32h-1zM1443 585h1v42h-1zM1451 577h1v50h-1z"/>
<polyline fill="none" stroke="#ff0000" stroke-width="1" stroke-dasharray="3 3" points="0,687.7 10,689.7 20,696.5 32.6,710.3 42.6,724 50.1,735.3 60.1,748.3 70.1,757.8 77.6,762.4 83.9,764.1 92.7,761.6 100.2,757.8 110.2,749.1 120.2,737.8 130.2,725.3 140.2,710.3 150.3,696.5 160.3,682.7 170.3,674 180.3,666.4 187.8,663.2 197.8,665.2 207.9,671.4 217.9,680.2 227.9,691.5 237.9,706.5 247.9,720.3 258,734.1 268,744.1 275.5,747.8 290.5,751.1 305.5,746.6 315.6,739.1 328.1,727.8 340.6,715.3 350.6,705.3 360.6,694 370.7,682.7 383.2,672.7 395.7,665.2 408.2,658.9 416,654.7 428.5,647.7 441,641.4 453.6,632.6 466.1,623.9 478.6,613.8 491.1,605.1 501.2,599.6 511.2,596.3 523.7,595.6 533.7,598.1 546.2,603.1 556.2,608.1 566.3,616.3 576.3,624.6 586.3,633.9 596.3,641.4 606.3,648.9 616.4,656.4 626.4,663.9 636.4,671.4 646.4,676.5 656.4,681 666.4,683.2 676.5,687.7 686.5,691 699,693.2 716.5,696 726.5,699 736.6,701 749.1,701.5 761.6,700.7 776.6,698.5 791.7,692.7 806.7,685.2 821.7,679 835.3,675.2 844.5,671.9 857,670.2 869.6,671.4 882.1,671.4 894.6,669.4 904.6,667.2 917.2,666.4 922.2,667.2 937.2,664.7 949.7,660.9 962.2,656.9 977.3,656.2 992.3,654.7 1002.3,655.2 1012.3,656.4 1022.3,660.2 1032.4,665.2 1042.4,670.2 1052.4,673.2 1062.4,676 1069.9,677 1077.4,674.7 1090,671.9 1100,668.2 1107.5,665.2 1117.5,663.2 1127.5,659.7 1147.6,659.7 1160.1,660.9 1175.1,663.4 1187.6,666.9 1197.6,670.2 1207.7,673.2 1222.7,672.7 1237.7,672.2 1247.7,668.9 1248,669.4 1258,664.7 1268,658.4 1278.1,652.7 1288.1,647.2 1298.1,642.1 1305.6,639.6 1320.6,636.4 1333.2,635.9 1348.2,637.1 1363.2,638.1 1375.7,636.4 1388.2,633.9 1398.3,630.6 1410.8,627.6 1420.8,623.9 1427.1,621.9 1434.6,616.3 1443.3,611.3 1450.4,606.8"/>
</g>
<g shape-rendering="crispEdges">
<line x1="0" x2="1646" y1="815.5" y2="815.5" stroke="#c0c0c0" stroke-dasharray="3 3"/>
<line x1="0" x2="1646" y1="857.5" y2="857.5" stroke="#c0c0c0" stroke-dasharray="3 3"/>
<line x1="0" x2="1646" y1="906.5" y2="906.5" stroke="#c0c0c0" stroke-dasharray="3 3"/>
<polyline fill="none" stroke="#1e90ff" stroke-width="1" points="3.5,890.9 11.5,889.4 19.5,890.4 27.5,888.4 35.5,895.5 43.5,881.2 51.5,882.4 59.5,879.4 67.5,881.4 75.5,880.2 83.5,870.2 91.5,858.1 99.5,859.6 107.5,857.4 115.5,859.4 123.5,856.1 131.5,855.1 139.5,861.1 147.5,857.4 155.5,858.4 163.5,859.6 171.5,860.6 179.5,872.2 187.5,880.9 195.5,890.2 203.5,890.4 211.5,891.4 219.5,893.5 227.5,890.2 235.5,891.4 243.5,895.2 251.5,895.5 259.5,895.5 267.5,881.9 275.5,880.2 283.5,880.2 291.5,871.4 299.5,870.2 307.5,865.4 315.5,865.4 323.5,859.4 331.5,863.4 339.5,864.6 347.5,871.4 355.5,860.1 363.5,849.4 371.5,856.4 379.5,864.6 387.5,861.4 395.5,863.4 403.5,866.4 411.5,853.9 419.5,851.9 427.5,847.6 435.5,842.1 443.5,840.9 451.5,840.1 459.5,835.1 467.5,845.6 475.5,850.1 483.5,844.6 491.5,843.1 499.5,849.4 507.5,847.1 515.5,863.1 523.5,859.1 531.5,863.9 539.5,868.2 547.5,867.2 555.5,869.4 563.5,863.4 571.5,875.9 579.5,879.4 587.5,874.4 595.5,874.4 603.5,873.2 611.5,884.2 619.5,878.2 627.5,873.4 635.5,875.2 643.5,876.4 651.5,876.4 659.5,876.4 667.5,887.2 675.5,889.4 683.5,884.7 691.5,874.4 699.5,874.4 707.5,881.2 715.5,882.7 723.5,881.4 731.5,883.2 739.5,886.4 747.5,886.4 755.5,870.7 763.5,867.4 771.5,868.4 779.5,864.4 787.5,866.4 795.5,868.4 803.5,861.4 811.5,878.4 819.5,879.4 827.5,868.2 835.5,865.9 843.5,861.4 851.5,856.4 859.5,885.2 867.5,868.2 875.5,865.2 883.5,860.6 891.5,859.1 899.5,857.1 907.5,860.6 915.5,869.2 923.5,869.4 931.5,863.4 939.5,866.7 947.5,853.4 955.5,859.4 963.5,861.4 971.5,861.6 979.5,864.4 987.5,867.2 995.5,868.4 1003.5,880.2 1011.5,876.2 1019.5,874.4 1027.5,874.4 1035.5,875.4 1043.5,858.4 1051.5,869.2 1059.5,863.6 1067.5,861.4 1075.5,855.4 1083.5,855.1 1091.5,864.4 1099.5,868.4 1107.5,867.4 1115.5,865.4 1123.5,859.4 1131.5,865.9 1139.5,872.4 1147.5,872.4 1155.5,865.4 1163.5,871.4 1171.5,872.4 1179.5,873.4 1187.5,877.4 1195.5,869.4 1203.5,868.2 1211.5,862.1 1219.5,860.1 1227.5,865.2 1235.5,870.4 1243.5,857.6 1251.5,849.4 1259.5,849.1 1267.5,852.4 1275.5,858.4 1283.5,849.4 1291.5,859.1 1299.5,863.1 1307.5,864.4 1315.5,871.4 1323.5,867.2 1331.5,851.4 1339.5,856.4 1347.5,860.6 1355.5,857.1 1363.5,857.1 1371.5,850.4 1379.5,847.1 1387.5,862.4 1395.5,855.1 1403.5,849.4 1411.5,852.6 1419.5,849.4 1427.5,846.4 1435.5,834.1 1443.5,841.1 1451.5,838.1"/>
</g>
<g shape-rendering="crispEdges">
<rect x="388" y="188" width="62" height="19" fill="#ff0000"/>
<rect x="389" y="189" width="60" height="17" fill="#fff"/>
<rect x="450" y="197" width="10" height="1" fill="#ff0000"/>
<rect x="1068" y="541" width="62" height="19" fill="#ff0000"/>
<rect x="1069" y="542" width="60" height="17" fill="#fff"/>
<rect x="1130" y="550" width="9" height="1" fill="#ff0000"/>
<rect x="1324" y="531" width="62" height="19" fill="#ff0000"/>
<rect x="1325" y="532" width="60" height="17" fill="#fff"/>
<rect x="1386" y="540" width="9" height="1" fill="#ff0000"/>
<rect x="1364" y="328" width="62" height="19" fill="#ff0000"/>
<rect x="1365" y="329" width="60" height="17" fill="#fff"/>
<rect x="1426" y="335" width="4" height="5" fill="#ff0000"/>
<rect x="1427" y="336" width="2" height="3" fill="#fff"/>
<rect x="1236" y="409" width="8" height="1" fill="#ff0000"/>
<rect x="1243" y="407" width="4" height="5" fill="#ff0000"/>
<rect x="1244" y="408" width="2" height="3" fill="#fff"/>
<rect x="1246" y="397" width="74" height="25" fill="#ff0000"/>
<rect x="1247" y="398" width="72" height="23" fill="#fff"/>
<rect x="1397" y="403" width="113" height="10" fill="#00ff00"/>
</g>
<text x="390.5" y="204" font-size="17" fill="#ff0000" textLength="58" lengthAdjust="spacingAndGlyphs">1.35146</text>
<text x="1070.5" y="557" font-size="17" fill="#ff0000" textLength="58" lengthAdjust="spacingAndGlyphs">1.31608</text>
<text x="1326.5" y="547" font-size="17" fill="#ff0000" textLength="58" lengthAdjust="spacingAndGlyphs">1.31707</text>
<text x="1367" y="344" font-size="17" fill="#ff0000" textLength="58" lengthAdjust="spacingAndGlyphs">1.33744</text>
<text x="1248.4" y="418" font-size="23.3" fill="#ff0000" textLength="70.3" lengthAdjust="spacingAndGlyphs">1.33023</text>
<g shape-rendering="crispEdges" stroke="#ff0000" fill="#ff0000">
<line x1="1394.5" y1="527.5" x2="1451.9" y2="360.9" stroke-width="3.8"/>
<polygon stroke="none" points="1455.5,350.5 1456.6,362.5 1447.2,359.3"/>
<line x1="1368.5" y1="646" x2="1452.4" y2="578.4" stroke-width="3.6"/>
<polygon stroke="none" points="1461,571.5 1455.6,582.3 1449.3,574.5"/>
<line x1="1383.5" y1="857.5" x2="1438.7" y2="829.9" stroke-width="3.6"/>
<polygon stroke="none" points="1448.5,825 1440.9,834.4 1436.4,825.4"/>
</g>
<text x="2" y="38.6" font-size="9.7" fill="#000" textLength="204" lengthAdjust="spacingAndGlyphs" stroke="#000" stroke-width="0.1">GBPUSD-,H4  1.33082 1.33262 1.33013 1.33250</text>
<text x="0" y="0" font-size="9.7" fill="#000" text-anchor="end" transform="translate(56.7 577) scale(0.95 1)" stroke="#000" stroke-width="0.1">MACD(12,26,9)</text>
<text x="60.2" y="577" font-size="9.7" fill="#000" textLength="37.7" lengthAdjust="spacingAndGlyphs" stroke="#000" stroke-width="0.1">0.001983</text>
<text x="101.4" y="577" font-size="9.7" fill="#000" textLength="36.8" lengthAdjust="spacingAndGlyphs" stroke="#000" stroke-width="0.1">0.000785</text>
<text x="0" y="0" font-size="9.7" fill="#000" text-anchor="end" transform="translate(23 798) scale(0.94 1)" stroke="#000" stroke-width="0.1">RSI(14)</text>
<text x="26.3" y="798" font-size="9.7" fill="#000" textLength="32.6" lengthAdjust="spacingAndGlyphs" stroke="#000" stroke-width="0.1">63.4584</text>
<polygon points="1457.5,28 1467.5,28 1462.5,33" fill="#b4b4b4"/>
<defs><linearGradient id="gs" x1="0" y1="0" x2="0" y2="1"><stop offset="0" stop-color="#fb5353"/><stop offset="1" stop-color="#e03030"/></linearGradient><linearGradient id="gp" x1="0" y1="0" x2="0" y2="1"><stop offset="0" stop-color="#d82828"/><stop offset="0.75" stop-color="#c01010"/><stop offset="1" stop-color="#a80000"/></linearGradient><linearGradient id="gpu" gradientUnits="userSpaceOnUse" x1="0" y1="72" x2="0" y2="103"><stop offset="0" stop-color="#d82828"/><stop offset="0.75" stop-color="#c01010"/><stop offset="1" stop-color="#a80000"/></linearGradient><linearGradient id="gb" x1="0" y1="0" x2="0" y2="1"><stop offset="0" stop-color="#f4f4f4"/><stop offset="0.45" stop-color="#e4e4e4"/><stop offset="0.5" stop-color="#d4d4d4"/><stop offset="1" stop-color="#cccccc"/></linearGradient></defs>
<g shape-rendering="crispEdges">
<rect x="0" y="46" width="209" height="58" fill="#fff"/>
<rect x="0" y="47" width="42" height="24" fill="#c00000"/>
<rect x="0" y="48" width="41" height="23" fill="url(#gs)"/>
<rect x="157" y="47" width="52" height="24" fill="#c00000"/>
<rect x="158" y="48" width="50" height="23" fill="url(#gs)"/>
<rect x="0" y="71" width="99" height="33" fill="#b00000"/>
<rect x="0" y="72" width="98" height="31" fill="url(#gp)"/>
<rect x="101" y="71" width="108" height="33" fill="#b00000"/>
<rect x="102" y="72" width="106" height="31" fill="url(#gp)"/>
<rect x="0" y="70" width="41" height="2" fill="#d82828"/>
<rect x="158" y="70" width="50" height="2" fill="#d82828"/>
<rect x="0" y="70" width="39" height="1" fill="#a00000"/>
<rect x="0" y="71" width="39" height="1" fill="#f06a6a"/>
<rect x="161" y="70" width="44" height="1" fill="#a00000"/>
<rect x="161" y="71" width="44" height="1" fill="#f06a6a"/>
<rect x="44" y="47" width="111" height="22" fill="#a9a9b4"/>
<rect x="45" y="48" width="109" height="20" fill="#fff"/>
<rect x="46" y="49" width="18" height="18" fill="url(#gb)"/>
<rect x="65" y="48" width="1" height="20" fill="#a9a9b4"/>
<rect x="135" y="49" width="18" height="18" fill="url(#gb)"/>
<rect x="133" y="48" width="1" height="20" fill="#a9a9b4"/>
</g>
<polygon points="52,56 57.5,56 54.75,59.5" fill="#4a63c0"/>
<polygon points="141,59 147,59 144,55.5" fill="#4a63c0"/>
<text x="2.5" y="63" font-size="12" fill="#fff" textLength="25.5" lengthAdjust="spacingAndGlyphs">SELL</text>
<text x="171" y="63" font-size="12" fill="#fff" textLength="22.5" lengthAdjust="spacingAndGlyphs">BUY</text>
<text x="129.3" y="62" font-size="12" fill="#000" text-anchor="end">1.00</text>
<text x="10.5" y="98.8" font-size="12" fill="#fff" textLength="23" lengthAdjust="spacingAndGlyphs" font-weight="bold">1.33</text>
<text x="120.2" y="98.8" font-size="12" fill="#fff" textLength="23" lengthAdjust="spacingAndGlyphs" font-weight="bold">1.33</text>
<text x="38" y="99" font-size="35" fill="#fff" textLength="33" lengthAdjust="spacingAndGlyphs" stroke="url(#gpu)" stroke-width="0.6">25</text>
<text x="149" y="99" font-size="35" fill="#fff" textLength="34" lengthAdjust="spacingAndGlyphs" stroke="url(#gpu)" stroke-width="0.6">27</text>
<text x="77" y="82.6" font-size="12" fill="#fff" font-weight="bold">0</text>
<text x="187.8" y="82.6" font-size="12" fill="#fff" font-weight="bold">4</text>
<g shape-rendering="crispEdges">
<rect x="1647" y="31" width="2" height="1" fill="#000"/>
<rect x="1647" y="64" width="2" height="1" fill="#000"/>
<rect x="1647" y="97" width="2" height="1" fill="#000"/>
<rect x="1647" y="130" width="2" height="1" fill="#000"/>
<rect x="1647" y="163" width="2" height="1" fill="#000"/>
<rect x="1647" y="196" width="2" height="1" fill="#000"/>
<rect x="1647" y="229" width="2" height="1" fill="#000"/>
<rect x="1647" y="262" width="2" height="1" fill="#000"/>
<rect x="1647" y="295" width="2" height="1" fill="#000"/>
<rect x="1647" y="328" width="2" height="1" fill="#000"/>
<rect x="1647" y="361" width="2" height="1" fill="#000"/>
<rect x="1647" y="394" width="2" height="1" fill="#000"/>
<rect x="1647" y="427" width="2" height="1" fill="#000"/>
<rect x="1647" y="460" width="2" height="1" fill="#000"/>
<rect x="1647" y="493" width="2" height="1" fill="#000"/>
<rect x="1647" y="526" width="2" height="1" fill="#000"/>
<rect x="1647" y="559" width="2" height="1" fill="#000"/>
<rect x="1647" y="565" width="2" height="1" fill="#000"/>
<rect x="1647" y="627" width="2" height="1" fill="#000"/>
<rect x="1647" y="782" width="2" height="1" fill="#000"/>
<rect x="1647" y="787" width="2" height="1" fill="#000"/>
<rect x="1647" y="815" width="2" height="1" fill="#000"/>
<rect x="1647" y="857" width="2" height="1" fill="#000"/>
<rect x="1647" y="906" width="2" height="1" fill="#000"/>
<rect x="1647" y="927" width="2" height="1" fill="#000"/>
<rect x="51" y="929" width="1" height="3" fill="#000"/>
<rect x="115" y="929" width="1" height="3" fill="#000"/>
<rect x="179" y="929" width="1" height="3" fill="#000"/>
<rect x="243" y="929" width="1" height="3" fill="#000"/>
<rect x="307" y="929" width="1" height="3" fill="#000"/>
<rect x="371" y="929" width="1" height="3" fill="#000"/>
<rect x="435" y="929" width="1" height="3" fill="#000"/>
<rect x="499" y="929" width="1" height="3" fill="#000"/>
<rect x="563" y="929" width="1" height="3" fill="#000"/>
<rect x="627" y="929" width="1" height="3" fill="#000"/>
<rect x="691" y="929" width="1" height="3" fill="#000"/>
<rect x="755" y="929" width="1" height="3" fill="#000"/>
<rect x="819" y="929" width="1" height="3" fill="#000"/>
<rect x="883" y="929" width="1" height="3" fill="#000"/>
<rect x="947" y="929" width="1" height="3" fill="#000"/>
<rect x="1011" y="929" width="1" height="3" fill="#000"/>
<rect x="1075" y="929" width="1" height="3" fill="#000"/>
<rect x="1139" y="929" width="1" height="3" fill="#000"/>
<rect x="1203" y="929" width="1" height="3" fill="#000"/>
<rect x="1267" y="929" width="1" height="3" fill="#000"/>
<rect x="1331" y="929" width="1" height="3" fill="#000"/>
<rect x="1395" y="929" width="1" height="3" fill="#000"/>
</g>
<text x="1652.5" y="35" font-size="9.7" fill="#000" textLength="32.3" lengthAdjust="spacingAndGlyphs" stroke="#000" stroke-width="0.2">1.36810</text>
<text x="1652.5" y="68" font-size="9.7" fill="#000" textLength="32.3" lengthAdjust="spacingAndGlyphs" stroke="#000" stroke-width="0.2">1.36480</text>
<text x="1652.5" y="101" font-size="9.7" fill="#000" textLength="32.3" lengthAdjust="spacingAndGlyphs" stroke="#000" stroke-width="0.2">1.36150</text>
<text x="1652.5" y="134" font-size="9.7" fill="#000" textLength="32.3" lengthAdjust="spacingAndGlyphs" stroke="#000" stroke-width="0.2">1.35820</text>
<text x="1652.5" y="167" font-size="9.7" fill="#000" textLength="32.3" lengthAdjust="spacingAndGlyphs" stroke="#000" stroke-width="0.2">1.35490</text>
<text x="1652.5" y="200" font-size="9.7" fill="#000" textLength="32.3" lengthAdjust="spacingAndGlyphs" stroke="#000" stroke-width="0.2">1.35160</text>
<text x="1652.5" y="233" font-size="9.7" fill="#000" textLength="32.3" lengthAdjust="spacingAndGlyphs" stroke="#000" stroke-width="0.2">1.34830</text>
<text x="1652.5" y="266" font-size="9.7" fill="#000" textLength="32.3" lengthAdjust="spacingAndGlyphs" stroke="#000" stroke-width="0.2">1.34500</text>
<text x="1652.5" y="299" font-size="9.7" fill="#000" textLength="32.3" lengthAdjust="spacingAndGlyphs" stroke="#000" stroke-width="0.2">1.34160</text>
<text x="1652.5" y="332" font-size="9.7" fill="#000" textLength="32.3" lengthAdjust="spacingAndGlyphs" stroke="#000" stroke-width="0.2">1.33830</text>
<text x="1652.5" y="365" font-size="9.7" fill="#000" textLength="32.3" lengthAdjust="spacingAndGlyphs" stroke="#000" stroke-width="0.2">1.33500</text>
<text x="1652.5" y="398" font-size="9.7" fill="#000" textLength="32.3" lengthAdjust="spacingAndGlyphs" stroke="#000" stroke-width="0.2">1.33170</text>
<text x="1652.5" y="431" font-size="9.7" fill="#000" textLength="32.3" lengthAdjust="spacingAndGlyphs" stroke="#000" stroke-width="0.2">1.32840</text>
<text x="1652.5" y="464" font-size="9.7" fill="#000" textLength="32.3" lengthAdjust="spacingAndGlyphs" stroke="#000" stroke-width="0.2">1.32510</text>
<text x="1652.5" y="497" font-size="9.7" fill="#000" textLength="32.3" lengthAdjust="spacingAndGlyphs" stroke="#000" stroke-width="0.2">1.32180</text>
<text x="1652.5" y="530" font-size="9.7" fill="#000" textLength="32.3" lengthAdjust="spacingAndGlyphs" stroke="#000" stroke-width="0.2">1.31850</text>
<text x="1652.5" y="563" font-size="9.7" fill="#000" textLength="32.3" lengthAdjust="spacingAndGlyphs" stroke="#000" stroke-width="0.2">1.31520</text>
<text x="1650" y="574.8" font-size="9.7" fill="#000" textLength="38" lengthAdjust="spacingAndGlyphs" stroke="#000" stroke-width="0.1">0.002365</text>
<text x="1650" y="630.8" font-size="9.7" fill="#000" textLength="17.5" lengthAdjust="spacingAndGlyphs" stroke="#000" stroke-width="0.1">0.00</text>
<text x="1649.5" y="780" font-size="9.7" fill="#000" textLength="41.5" lengthAdjust="spacingAndGlyphs" stroke="#000" stroke-width="0.1">-0.006048</text>
<text x="0" y="0" font-size="9.7" fill="#000" transform="translate(1650.5 796) scale(0.934 1)" stroke="#000" stroke-width="0.1">100</text>
<text x="0" y="0" font-size="9.7" fill="#000" transform="translate(1650 819) scale(0.934 1)" stroke="#000" stroke-width="0.1">80</text>
<text x="0" y="0" font-size="9.7" fill="#000" transform="translate(1650 861) scale(0.934 1)" stroke="#000" stroke-width="0.1">50</text>
<text x="0" y="0" font-size="9.7" fill="#000" transform="translate(1650 910) scale(0.934 1)" stroke="#000" stroke-width="0.1">15</text>
<text x="0" y="0" font-size="9.7" fill="#000" transform="translate(1650 925) scale(0.934 1)" stroke="#000" stroke-width="0.1">0</text>
<text x="0" y="0" font-size="9.7" fill="#000" text-anchor="end" transform="translate(34.6 941) scale(0.99 1)" stroke="#000" stroke-width="0.1">4 Nov 2021</text>
<text x="50.3" y="941" font-size="9.7" fill="#000" textLength="50.3" lengthAdjust="spacingAndGlyphs" stroke="#000" stroke-width="0.1">5 Nov 16:00</text>
<text x="114.3" y="941" font-size="9.7" fill="#000" textLength="50.3" lengthAdjust="spacingAndGlyphs" stroke="#000" stroke-width="0.1">9 Nov 00:00</text>
<text x="178.3" y="941" font-size="9.7" fill="#000" textLength="55.3" lengthAdjust="spacingAndGlyphs" stroke="#000" stroke-width="0.1">10 Nov 08:00</text>
<text x="242.3" y="941" font-size="9.7" fill="#000" textLength="55.3" lengthAdjust="spacingAndGlyphs" stroke="#000" stroke-width="0.1">11 Nov 16:00</text>
<text x="306.3" y="941" font-size="9.7" fill="#000" textLength="55.3" lengthAdjust="spacingAndGlyphs" stroke="#000" stroke-width="0.1">15 Nov 00:00</text>
<text x="370.3" y="941" font-size="9.7" fill="#000" textLength="55.3" lengthAdjust="spacingAndGlyphs" stroke="#000" stroke-width="0.1">16 Nov 08:00</text>
<text x="434.3" y="941" font-size="9.7" fill="#000" textLength="55.3" lengthAdjust="spacingAndGlyphs" stroke="#000" stroke-width="0.1">17 Nov 16:00</text>
<text x="498.3" y="941" font-size="9.7" fill="#000" textLength="55.3" lengthAdjust="spacingAndGlyphs" stroke="#000" stroke-width="0.1">19 Nov 00:00</text>
<text x="562.3" y="941" font-size="9.7" fill="#000" textLength="55.3" lengthAdjust="spacingAndGlyphs" stroke="#000" stroke-width="0.1">22 Nov 08:00</text>
<text x="626.3" y="941" font-size="9.7" fill="#000" textLength="55.3" lengthAdjust="spacingAndGlyphs" stroke="#000" stroke-width="0.1">23 Nov 16:00</text>
<text x="690.3" y="941" font-size="9.7" fill="#000" textLength="55.3" lengthAdjust="spacingAndGlyphs" stroke="#000" stroke-width="0.1">25 Nov 00:00</text>
<text x="754.3" y="941" font-size="9.7" fill="#000" textLength="55.3" lengthAdjust="spacingAndGlyphs" stroke="#000" stroke-width="0.1">26 Nov 08:00</text>
<text x="818.3" y="941" font-size="9.7" fill="#000" textLength="55.3" lengthAdjust="spacingAndGlyphs" stroke="#000" stroke-width="0.1">29 Nov 16:00</text>
<text x="882.3" y="941" font-size="9.7" fill="#000" textLength="49.3" lengthAdjust="spacingAndGlyphs" stroke="#000" stroke-width="0.1">1 Dec 00:00</text>
<text x="946.3" y="941" font-size="9.7" fill="#000" textLength="49.3" lengthAdjust="spacingAndGlyphs" stroke="#000" stroke-width="0.1">2 Dec 08:00</text>
<text x="1010.3" y="941" font-size="9.7" fill="#000" textLength="49.3" lengthAdjust="spacingAndGlyphs" stroke="#000" stroke-width="0.1">3 Dec 16:00</text>
<text x="1074.3" y="941" font-size="9.7" fill="#000" textLength="49.3" lengthAdjust="spacingAndGlyphs" stroke="#000" stroke-width="0.1">7 Dec 00:00</text>
<text x="1138.3" y="941" font-size="9.7" fill="#000" textLength="49.3" lengthAdjust="spacingAndGlyphs" stroke="#000" stroke-width="0.1">8 Dec 08:00</text>
<text x="1202.3" y="941" font-size="9.7" fill="#000" textLength="49.3" lengthAdjust="spacingAndGlyphs" stroke="#000" stroke-width="0.1">9 Dec 16:00</text>
<text x="1266.3" y="941" font-size="9.7" fill="#000" textLength="54.3" lengthAdjust="spacingAndGlyphs" stroke="#000" stroke-width="0.1">13 Dec 00:00</text>
<text x="1330.3" y="941" font-size="9.7" fill="#000" textLength="54.3" lengthAdjust="spacingAndGlyphs" stroke="#000" stroke-width="0.1">14 Dec 08:00</text>
<text x="1394.3" y="941" font-size="9.7" fill="#000" textLength="54.3" lengthAdjust="spacingAndGlyphs" stroke="#000" stroke-width="0.1">15 Dec 16:00</text>
<g shape-rendering="crispEdges">
<rect x="1648" y="331" width="41" height="11" fill="#ff0000"/>
<rect x="1641" y="335" width="5" height="5" fill="#ff0000"/>
<rect x="1642" y="336" width="3" height="3" fill="#fff"/>
<rect x="1648" y="354" width="41" height="11" fill="#ff4500"/>
<rect x="1641" y="358" width="5" height="5" fill="#ff4500"/>
<rect x="1642" y="359" width="3" height="3" fill="#fff"/>
<rect x="1648" y="381" width="41" height="11" fill="#000000"/>
<rect x="1648" y="403" width="41" height="11" fill="#32cd32"/>
<rect x="1641" y="407" width="5" height="5" fill="#32cd32"/>
<rect x="1642" y="408" width="3" height="3" fill="#fff"/>
<rect x="1648" y="427" width="41" height="11" fill="#0000ff"/>
<rect x="1641" y="431" width="5" height="5" fill="#0000ff"/>
<rect x="1642" y="432" width="3" height="3" fill="#fff"/>
<rect x="1648" y="461" width="41" height="11" fill="#0000ff"/>
<rect x="1641" y="465" width="5" height="5" fill="#0000ff"/>
<rect x="1642" y="466" width="3" height="3" fill="#fff"/>
</g>
<text x="1652.5" y="340" font-size="9.7" fill="#fff" textLength="32.3" lengthAdjust="spacingAndGlyphs" stroke="#fff" stroke-width="0.25">1.33744</text>
<text x="1652.5" y="363" font-size="9.7" fill="#fff" textLength="32.3" lengthAdjust="spacingAndGlyphs" stroke="#fff" stroke-width="0.25">1.33514</text>
<text x="1652.5" y="390" font-size="9.7" fill="#fff" textLength="32.3" lengthAdjust="spacingAndGlyphs" stroke="#fff" stroke-width="0.25">1.33250</text>
<text x="1652.5" y="412" font-size="9.7" fill="#fff" textLength="32.3" lengthAdjust="spacingAndGlyphs" stroke="#fff" stroke-width="0.25">1.33023</text>
<text x="1652.5" y="436" font-size="9.7" fill="#fff" textLength="32.3" lengthAdjust="spacingAndGlyphs" stroke="#fff" stroke-width="0.25">1.32782</text>
<text x="1652.5" y="470" font-size="9.7" fill="#fff" textLength="32.3" lengthAdjust="spacingAndGlyphs" stroke="#fff" stroke-width="0.25">1.32442</text>
</svg></body></html>
